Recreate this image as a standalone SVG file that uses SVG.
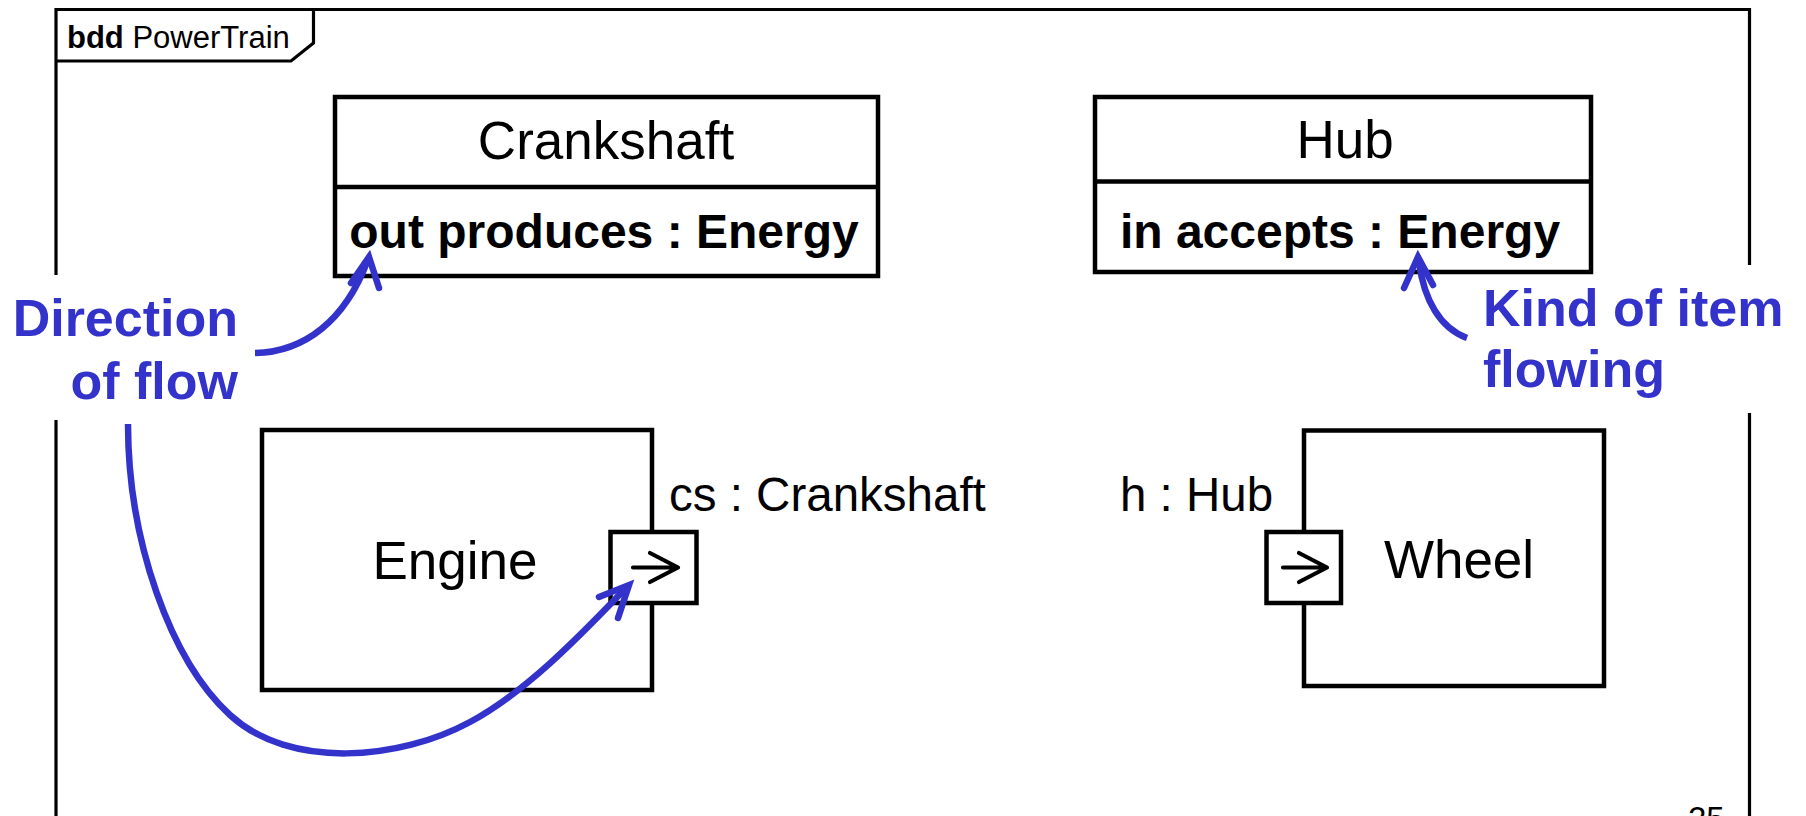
<svg xmlns="http://www.w3.org/2000/svg" width="1806" height="816" viewBox="0 0 1806 816">
<style>
.frame{fill:none;stroke:#000;stroke-width:3.2}
.box{fill:#fff;stroke:#000;stroke-width:4.5}
.t{font-family:"Liberation Sans",Arial,sans-serif;fill:#000}
.title{font-size:53px}
.attr{font-size:48px;font-weight:bold}
.lbl{font-size:47.5px}
.note{font-family:"Liberation Sans",Arial,sans-serif;font-size:52px;font-weight:bold;fill:#3333CC}
.pa{fill:none;stroke:#000;stroke-width:4.2;stroke-linecap:round;stroke-linejoin:round}
.blue{fill:none;stroke:#3333CC;stroke-width:6.5;stroke-linecap:butt;stroke-linejoin:round}
.bluehead{fill:none;stroke:#3333CC;stroke-width:6.5;stroke-linecap:round;stroke-linejoin:miter}
</style>
<rect width="1806" height="816" fill="#fff"/>
<g id="frame">
<path class="frame" d="M56,816 V420 M56,275 V9.5 H1749.5 V265 M1749.5,413 V816"/>
<path class="frame" d="M56,61 H291 L313.5,43 V9.5"/>
<text class="t" x="67" y="48" font-size="31"><tspan font-weight="bold">bdd</tspan> PowerTrain</text>
</g>
<g id="crankshaft">
<rect class="box" x="335" y="97" width="543" height="179"/>
<line class="box" x1="335" y1="187" x2="878" y2="187"/>
<text class="t title" x="606" y="159" text-anchor="middle">Crankshaft</text>
<text class="t attr" x="604" y="248" text-anchor="middle">out produces : Energy</text>
</g>
<g id="hub">
<rect class="box" x="1095" y="97" width="496" height="175"/>
<line class="box" x1="1095" y1="181.5" x2="1591" y2="181.5"/>
<text class="t title" x="1345" y="158" text-anchor="middle">Hub</text>
<text class="t attr" x="1340" y="248" text-anchor="middle">in accepts : Energy</text>
</g>
<g id="engine">
<rect class="box" x="262" y="430" width="390" height="260"/>
<text class="t title" x="455" y="579" text-anchor="middle">Engine</text>
</g>
<g id="engine-port">
<rect class="box" x="610.5" y="532" width="86" height="71"/>
<path class="pa" d="M633,567.5 H678 M650,553 L678,567.5 L650,582"/>
<text class="t lbl" x="669" y="511">cs : Crankshaft</text>
</g>
<g id="wheel">
<rect class="box" x="1304" y="430.5" width="300" height="255.5"/>
<text class="t title" x="1459" y="578" text-anchor="middle">Wheel</text>
</g>
<g id="wheel-port">
<rect class="box" x="1266.5" y="532" width="74.5" height="71"/>
<path class="pa" d="M1283,567.5 H1327 M1299,553 L1327,567.5 L1299,582"/>
<text class="t lbl" x="1120" y="511">h : Hub</text>
</g>
<g id="notes">
<text class="note" x="238" y="336" text-anchor="end">Direction</text>
<text class="note" x="238" y="399" text-anchor="end">of flow</text>
<text class="note" x="1483" y="326">Kind of item</text>
<text class="note" x="1483" y="387">flowing</text>
</g>
<g id="connectors">
<path class="blue" d="M255,353 C305,352 345,320 367,262"/>
<path class="bluehead" d="M351,283 L369,257 L379,288"/>
<path class="blue" d="M128,424 C128,540 170,660 230,715 C290,770 400,760 470,722 C530,690 590,625 626,588"/>
<path class="bluehead" d="M599,597 L629,585 L618,618"/>
<path class="blue" d="M1467,338 C1440,328 1424,300 1419,262"/>
<path class="bluehead" d="M1404,288 L1418,257 L1433,285"/>
</g>
<text class="t" x="1688" y="830" font-size="33">25</text>
</svg>
